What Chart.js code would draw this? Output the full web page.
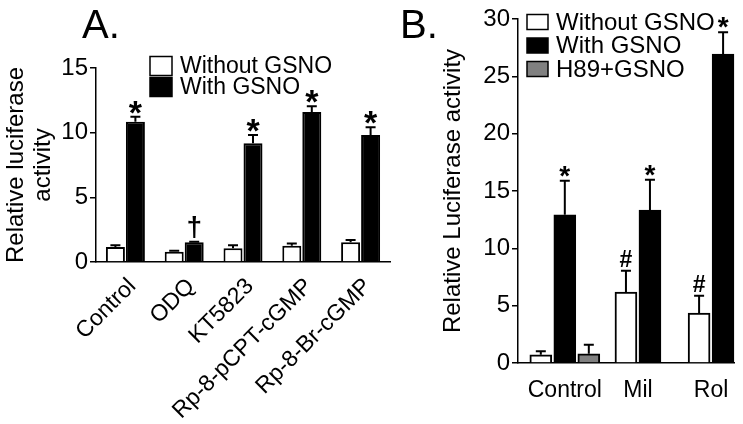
<!DOCTYPE html>
<html>
<head>
<meta charset="utf-8">
<script src="https://cdn.jsdelivr.net/npm/chart.js@4"></script>
<style>
  body { margin: 0; background: #fff; }
  #wrap { position: relative; width: 743px; height: 424px; overflow: hidden; font-family: "Liberation Sans", Arial, sans-serif; }
  canvas { position: absolute; top: 0; }
  #chartA { left: 0; }
  #chartB { left: 400px; }
  .panel { position: absolute; font-size: 40px; line-height: 40px; color: #000; }
</style>
</head>
<body>
<div id="wrap">
  <canvas id="chartA" width="400" height="424"></canvas>
  <canvas id="chartB" width="343" height="424"></canvas>
  <div class="panel" style="left:82px;top:4px">A.</div>
  <div class="panel" style="left:400px;top:4px">B.</div>
</div>
<script>
// Panel A
const catsA = ['Control', 'ODQ', 'KT5823', 'Rp-8-pCPT-cGMP', 'Rp-8-Br-cGMP'];
const withoutA = [1.16, 0.8, 1.06, 1.26, 1.52];
const withoutAErr = [0.14, 0.07, 0.24, 0.18, 0.18];
const withA = [10.85, 1.52, 9.18, 11.6, 9.82];
const withAErr = [0.39, 0.05, 0.64, 0.45, 0.6];
const marksA = ['*', '\u2020', '*', '*', '*'];
const ticksA = [0, 5, 10, 15];

// Panel B
const catsB = ['Control', 'Mil', 'Rol'];
const withoutB = [0.72, 6.19, 4.36];
const withoutBErr = [0.3, 1.86, 1.5];
const withB = [12.93, 13.34, 26.94];
const withBErr = [2.97, 2.64, 1.9];
const h89B = [0.81, null, null];
const h89BErr = [0.79, null, null];
const marksWithoutB = ['', '#', '#'];
const marksWithB = ['*', '*', '*'];
const ticksB = [0, 5, 10, 15, 20, 25, 30];

const FONT = '"Liberation Sans", Arial, sans-serif';
Chart.defaults.font.family = FONT;
Chart.defaults.color = '#000';

const errorBars = {
  id: 'errorBars',
  afterDatasetsDraw(chart, args, o) {
    const ctx = chart.ctx;
    const y = chart.scales.y;
    chart.data.datasets.forEach((ds, i) => {
      const meta = chart.getDatasetMeta(i);
      meta.data.forEach((bar, j) => {
        const v = ds.data[j];
        if (v == null) return;
        const top = y.getPixelForValue(v + ds.errors[j]);
        ctx.save();
        ctx.strokeStyle = '#000';
        ctx.lineWidth = o.lineWidth;
        ctx.beginPath();
        ctx.moveTo(bar.x, bar.y);
        ctx.lineTo(bar.x, top);
        ctx.moveTo(bar.x - o.cap, top);
        ctx.lineTo(bar.x + o.cap, top);
        ctx.stroke();
        const mark = ds.marks && ds.marks[j];
        if (mark) {
          ctx.font = (o.markFonts[mark] || o.markFonts['*']) + ' ' + FONT;
          ctx.fillStyle = '#000';
          ctx.textAlign = 'center';
          ctx.textBaseline = 'alphabetic';
          const m = ctx.measureText(mark);
          ctx.fillText(mark, bar.x, top - o.gap - m.actualBoundingBoxDescent);
        }
        ctx.restore();
      });
    });
  }
};

const boxLegend = {
  id: 'boxLegend',
  afterDraw(chart, args, o) {
    const ctx = chart.ctx;
    ctx.save();
    ctx.font = o.font + ' ' + FONT;
    ctx.textBaseline = 'middle';
    ctx.textAlign = 'left';
    chart.data.datasets.forEach((ds, i) => {
      const cy = o.y + i * o.row;
      ctx.fillStyle = ds.backgroundColor;
      ctx.fillRect(o.x, cy - o.boxH / 2, o.boxW, o.boxH);
      ctx.lineWidth = 1.5;
      ctx.strokeStyle = '#000';
      ctx.strokeRect(o.x, cy - o.boxH / 2, o.boxW, o.boxH);
      ctx.fillStyle = '#000';
      ctx.fillText(ds.label, o.x + o.boxW + o.gap, cy + 1);
    });
    ctx.restore();
  }
};

function yAxis(max, ticks, title, padTop, width) {
  return {
    min: 0, max: max,
    afterBuildTicks: s => { s.ticks = ticks.map(v => ({ value: v })); },
    ticks: { font: { size: 24 }, color: '#000', padding: 2 },
    grid: { drawOnChartArea: false, drawTicks: true, tickLength: 6, color: '#000', lineWidth: 1.5 },
    border: { color: '#000', width: 1.5 },
    title: { display: true, text: title, font: { size: 24, lineHeight: 1.12 }, color: '#000', padding: { top: padTop, bottom: 0 } },
    afterFit: s => { s.width = width; }
  };
}

new Chart(document.getElementById('chartA'), {
  type: 'bar',
  data: {
    labels: catsA,
    datasets: [
      { label: 'Without GSNO', data: withoutA, errors: withoutAErr, backgroundColor: '#ffffff', borderColor: '#000', borderWidth: 2 },
      { label: 'With GSNO', data: withA, errors: withAErr, marks: marksA, backgroundColor: '#000000', borderColor: '#000', borderWidth: 2 }
    ]
  },
  options: {
    responsive: false,
    animation: false,
    devicePixelRatio: 1,
    categoryPercentage: 0.68,
    barPercentage: 0.95,
    layout: { padding: { top: 68, right: 10, left: 0, bottom: 0 } },
    scales: {
      x: {
        ticks: { font: { size: 23 }, color: '#000', minRotation: 45, maxRotation: 45, padding: 11, labelOffset: 7, autoSkip: false },
        grid: { display: false, drawTicks: false },
        border: { color: '#000', width: 1.5 },
        afterFit: s => { s.height = 162; }
      },
      y: yAxis(15, ticksA, ['Relative luciferase', 'activity'], 3, 96)
    },
    plugins: {
      legend: { display: false },
      tooltip: { enabled: false },
      errorBars: { lineWidth: 2, cap: 5, gap: 3, markFonts: { '*': 'bold 34px', '\u2020': 'bold 28px' } },
      boxLegend: { x: 150, y: 66, row: 21, boxW: 22, boxH: 19, gap: 8, font: '23px' }
    }
  },
  plugins: [errorBars, boxLegend]
});

new Chart(document.getElementById('chartB'), {
  type: 'bar',
  data: {
    labels: catsB.map((c, i) => i),
    datasets: [
      { label: 'Without GSNO', data: withoutB, errors: withoutBErr, marks: marksWithoutB, backgroundColor: '#ffffff', borderColor: '#000', borderWidth: 2 },
      { label: 'With GSNO', data: withB, errors: withBErr, marks: marksWithB, backgroundColor: '#000000', borderColor: '#000', borderWidth: 2 },
      { label: 'H89+GSNO', data: h89B, errors: h89BErr, backgroundColor: '#808080', borderColor: '#000', borderWidth: 2 }
    ]
  },
  options: {
    responsive: false,
    animation: false,
    devicePixelRatio: 1,
    skipNull: true,
    barThickness: 24,
    maxBarThickness: 22,
    layout: { padding: { top: 19, right: 6, left: 0, bottom: 0 } },
    scales: {
      x: {
        type: 'linear', min: -0.64, max: 2.32, offset: false,
        afterBuildTicks: s => { s.ticks = catsB.map((c, i) => ({ value: i })); },
        ticks: { callback: v => catsB[v], font: { size: 23 }, color: '#000', minRotation: 0, maxRotation: 0, padding: 14 },
        grid: { display: false, drawTicks: false },
        border: { color: '#000', width: 1.5 },
        afterFit: s => { s.height = 61; }
      },
      y: yAxis(30, ticksB, 'Relative Luciferase activity', 40, 118)
    },
    plugins: {
      legend: { display: false },
      tooltip: { enabled: false },
      errorBars: { lineWidth: 2, cap: 5, gap: 4, markFonts: { '*': 'bold 28px', '#': 'bold 23px' } },
      boxLegend: { x: 127, y: 22, row: 23.5, boxW: 21, boxH: 15, gap: 8, font: '24px' }
    }
  },
  plugins: [errorBars, boxLegend]
});
</script>
</body>
</html>
